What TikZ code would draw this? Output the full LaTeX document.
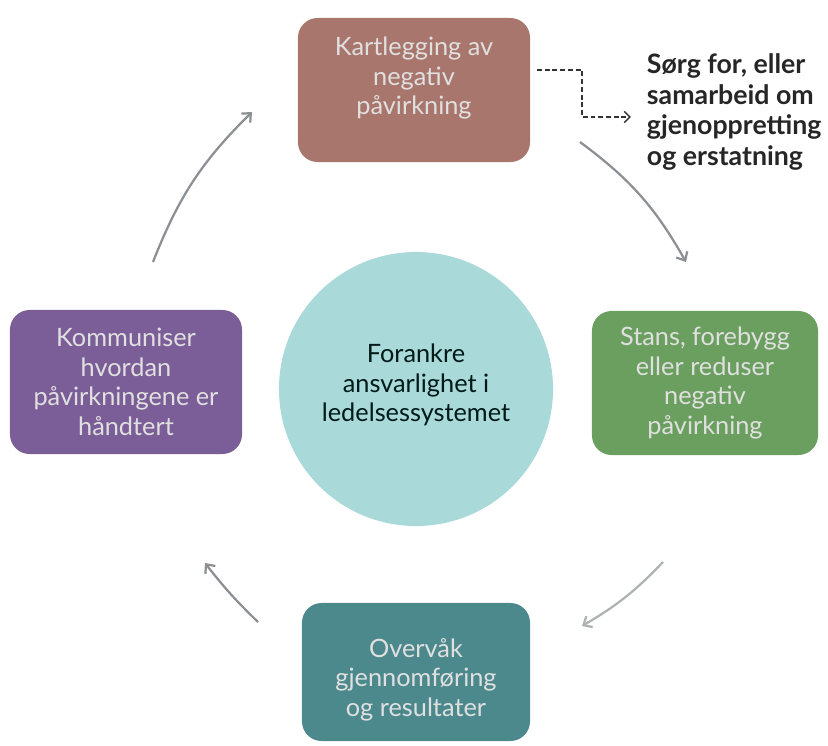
\documentclass[tikz,border=0pt]{standalone}
\usepackage{fontspec}
\setmainfont{Lato}
\usetikzlibrary{arrows.meta}
\definecolor{kartbrun}{HTML}{A8766C}
\definecolor{stansgrønn}{HTML}{6A9F5F}
\definecolor{overvaktil}{HTML}{4B898D}
\definecolor{kommlilla}{HTML}{7B5E97}
\definecolor{forankblå}{HTML}{A9D9D8}
\definecolor{pilgrå}{HTML}{8C8F93}
\tikzset{
	stegboks/.style={rounded corners=14pt, minimum width=5.8cm, minimum height=3.6cm, align=center,
		font=\fontsize{18}{21}\selectfont, text=white!88!black},
	sirkel/.style={circle, fill=forankblå, minimum size=6.85cm, align=center,
		font=\fontsize{18}{21}\selectfont, text=black!80!teal},
	pil/.style={draw=pilgrå, line width=1.6pt, -{Straight Barb[length=5pt, width=9pt]}},
}

\begin{document}
\begin{tikzpicture}[x=0.025cm, y=-0.025cm]
	%\draw[help lines] (0,0) grid (828,745);
	\useasboundingbox (0,0) rectangle (828,745);

	\node[sirkel, text depth=9pt] (forankre) at (416,389) {Forankre\\ansvarlighet i\\ledelsessystemet};%centre

	\node[stegboks, fill=kartbrun, text depth=20pt] (kart) at (414,90) {Kartlegging av\\negativ\\påvirkning};
	\node[stegboks, fill=stansgrønn, minimum width=5.65cm] (stans) at (705,383) {Stans, forebygg\\eller reduser\\negativ\\påvirkning};
	\node[stegboks, fill=overvaktil, minimum width=5.7cm, minimum height=3.45cm, text height=66pt] (overvak) at (416,672) {Overvåk\\gjennomføring\\og resultater};
	\node[stegboks, fill=kommlilla] (komm) at (126,382) {Kommuniser\\hvordan\\påvirkningene er\\håndtert};

	\node[align=left, anchor=west, text=black!85, font=\fontsize{19}{22}\selectfont\bfseries] (sorg) at (642,112)
		{Sørg for, eller\\samarbeid om\\gjenoppretting\\og erstatning};

	% ends of the cycle arrows
	\coordinate (k1) at (153,262); \coordinate (k2) at (252,112);
	\coordinate (s1) at (580,142); \coordinate (s2) at (686,262);
	\coordinate (o1) at (663,562); \coordinate (o2) at (582,626);
	\coordinate (m1) at (258,622); \coordinate (m2) at (205,563);
	\coordinate (d1) at (537,70);  \coordinate (d2) at (582,117);

	\draw[pil] (k1) to[bend left=12] (k2);%komm -> kart
	\draw[pil] (s1) to[bend left=12] (s2);%kart -> stans
	\draw[pil, draw=pilgrå!70] (o1) to[bend left=8] (o2);%stans -> overvak
	\draw[pil] (m1) to[bend left=4] (m2);%overvak -> komm

	\draw[dash pattern=on 3.5pt off 2pt, line width=1pt, black!80, -{Straight Barb[length=4pt, width=8pt]}]
		(d1) -| (d2) -- ([xshift=-8pt]sorg.west |- d2);%dashed side path
\end{tikzpicture}
\end{document}
